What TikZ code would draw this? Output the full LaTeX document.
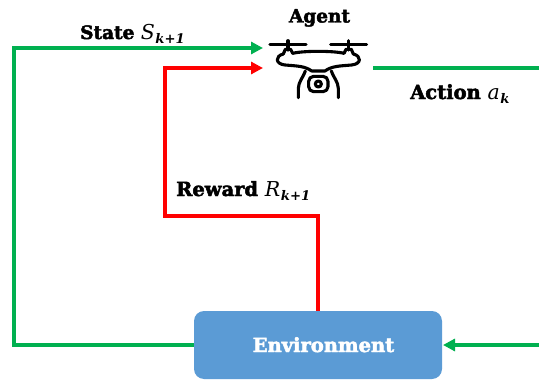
\documentclass[tikz,border=0pt]{standalone}
\usepackage{fontspec}
\setmainfont{DejaVu Serif}
\newfontfamily\lblfont{DejaVu Serif Bold}[FakeBold=2.5]
\newfontfamily\mathlike{DejaVu Serif Italic}
\newfontfamily\sublike{DejaVu Serif Bold Italic}
\usetikzlibrary{arrows.meta}
\definecolor{grn}{HTML}{00B050}
\definecolor{rd}{HTML}{FF0000}
\definecolor{envblue}{HTML}{5B9BD5}
\newcommand{\lbl}[3]{{\lblfont #1} {\mathlike\fontsize{20.5}{22}\selectfont #2}\kern0.5pt\raisebox{-4.5pt}{\sublike\fontsize{13.2}{15}\selectfont #3}}
\begin{document}
\begin{tikzpicture}[x=1pt,y=-1pt,
  link/.style={line width=3.2pt},
  txt/.style={inner sep=0pt,font=\lblfont\fontsize{18.5}{20}\selectfont,text=black},
  txtb/.style={inner sep=0pt,font=\lblfont\fontsize{19.5}{20}\selectfont,text=black},
  drone/.style={line width=3.1pt,line cap=round,line join=round,draw=black}]
\useasboundingbox (0,0) rectangle (539,380);
\node[fill=envblue,rounded corners=10pt,minimum width=248pt,minimum height=68pt,inner sep=0pt,
  text=white] (env) at (318,345) {};
\node[anchor=base,inner sep=0pt,text=white,font=\lblfont\fontsize{19.5}{20}\selectfont] (envlbl) at (323.5,352) {Environment};
\coordinate (agentA) at (263,48);
\coordinate (agentB) at (263,68);
\coordinate (agentC) at (373,68);
\coordinate (rightTop) at (539,68);
\coordinate (rightBot) at (539,345);
\coordinate (tipEnv) at (443,345);
\coordinate (cornerL) at (14,345);
\coordinate (cornerT) at (14,48);
\coordinate (redLow) at (318,216);
\coordinate (redMid) at (165,216);
\coordinate (redTop) at (165,68);
\draw[link,grn,-{Triangle[length=12pt,width=12pt]}] (env.west) -- (cornerL) -- (cornerT) -- (agentA);
\draw[link,rd,-{Triangle[length=12pt,width=12pt]}] (env.north) -- (redLow) -- (redMid) -- (redTop) -- (agentB);
\draw[link,grn] (agentC) -- (rightTop);
\draw[link,grn,-{Triangle[length=12pt,width=12pt]}] (rightBot) -- (tipEnv);
\node[txt,anchor=base] (agentlbl) at (319.5,22.5) {Agent};
\node[txt,anchor=base west] (statelbl) at (80,39) {\lbl{State}{S}{k+1}};
\node[txtb,anchor=base west] (rewardlbl) at (176,196) {\lbl{Reward}{R}{k+1}};
\node[txtb,anchor=base west] (actionlbl) at (410,99) {\lbl{Action}{a}{k}};
% drone icon, zoom-crop coordinates
\begin{scope}[shift={(250,0)},x=0.3333pt,y=-0.3333pt,drone]
  \draw (60,133) -- (168,133);
  \draw (242,133) -- (350,133);
  \draw (114,122) -- (114,150);
  \draw (296,122) -- (296,150);
  \draw (100,162) -- (106,148) -- (122,148) -- (128,160);
  \draw (282,160) -- (288,148) -- (304,148) -- (310,162);
  \draw (128,160) .. controls (160,152) and (250,152) .. (282,160);
  \draw (100,162) .. controls (75,168) and (75,192) .. (105,195)
     .. controls (140,198) and (165,198) .. (185,213) -- (225,213)
     .. controls (245,198) and (270,198) .. (305,195)
     .. controls (335,192) and (335,168) .. (310,162);
  \draw (166,213) .. controls (158,235) and (146,245) .. (145,265) -- (145,293);
  \draw (244,213) .. controls (252,235) and (264,245) .. (265,265) -- (265,293);
  \draw[rounded corners=5pt] (176,229) rectangle (234,275);
  \draw (205,252) circle (9);
\end{scope}
\end{tikzpicture}
\end{document}
